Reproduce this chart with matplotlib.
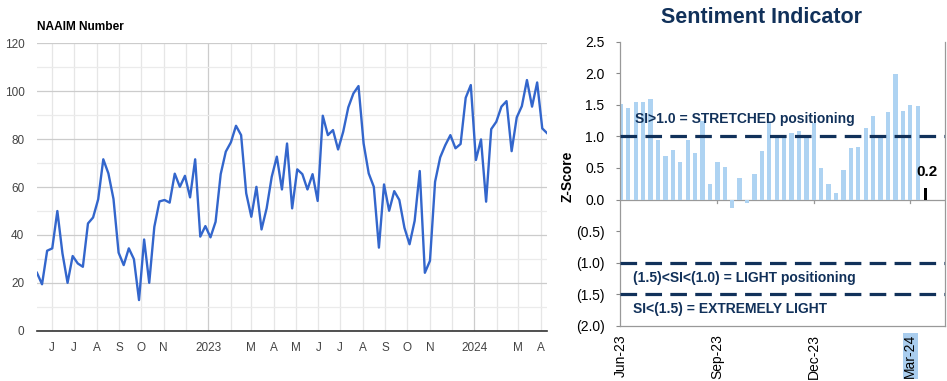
import numpy as np
import pandas as pd
import matplotlib
matplotlib.use("Agg")
import matplotlib.pyplot as plt

plt.rcParams['font.family'] = ['Liberation Sans', 'DejaVu Sans']

# NAAIM exposure index, weekly from 2022-05-11 to 2024-04-10
naaim_start = "2022-05-11"
naaim = [24.2, 19.4, 33.4, 34.4, 50.0, 32.3, 20.0, 31.2, 28.1, 26.7,
         44.8, 47.3, 54.9, 71.6, 65.7, 55.0, 32.6, 27.4, 34.4, 29.9,
         12.8, 38.1, 20.0, 43.4, 54.0, 54.6, 53.5, 65.6, 60.1, 64.7,
         55.7, 71.6, 39.3, 43.7, 39.0, 45.5, 65.4, 74.8, 78.7, 85.6,
         81.7, 57.4, 47.6, 60.1, 42.3, 51.1, 64.3, 72.7, 59.0, 78.2,
         51.1, 67.4, 65.4, 59.0, 65.4, 54.2, 89.8, 81.7, 83.8, 75.7,
         83.1, 93.3, 99.1, 102.2, 78.2, 65.7, 60.1, 34.7, 61.1, 50.1,
         58.3, 54.6, 43.0, 36.1, 45.9, 66.7, 24.2, 29.2, 62.2, 72.4,
         77.5, 81.7, 76.2, 78.0, 97.3, 102.6, 71.3, 79.9, 53.9, 84.2,
         87.3, 93.6, 95.9, 75.0, 89.1, 93.8, 104.7, 93.6, 103.7, 84.5,
         82.4]
naaim_dates = pd.date_range(naaim_start, periods=len(naaim), freq="7D")

# Sentiment indicator z-scores, weekly Jun-23 .. Mar-24
si = [1.51, 1.45, 1.55, 1.54, 1.60, 0.95, 0.69, 0.79, 0.60, 0.95,
      0.73, 1.24, 0.24, 0.60, 0.52, -0.13, 0.34, -0.05, 0.41, 0.77,
      1.21, 1.03, 1.03, 1.06, 1.08, 1.02, 1.21, 0.50, 0.25, 0.11,
      0.47, 0.81, 0.83, 1.13, 1.33, 1.00, 1.39, 1.99, 1.41, 1.49,
      1.48, 0.18]
si_tick_pos = [0, 13, 26, 39]
si_tick_labels = ["Jun-23", "Sep-23", "Dec-23", "Mar-24"]
si_levels = [1.0, -1.0, -1.5]
si_yticks = [2.5, 2.0, 1.5, 1.0, 0.5, 0.0, -0.5, -1.0, -1.5, -2.0]

fig = plt.figure(figsize=(9.47, 3.81), dpi=100)

# ---------------- left: NAAIM line ----------------
ax1 = fig.add_axes([0.039, 0.132, 0.539, 0.754])
ax1.plot(naaim_dates, naaim, color="#3366CC", lw=1.7, zorder=3)
ax1.set_xlim(naaim_dates[0], naaim_dates[-1])
ax1.set_ylim(0, 120)
ax1.set_yticks(range(0, 121, 20))
ax1.set_yticks(range(10, 120, 20), minor=True)
ax1.grid(axis="y", which="major", color="#cccccc", lw=0.9)
ax1.grid(axis="y", which="minor", color="#ebebeb", lw=0.9)

months = pd.date_range("2022-06-01", naaim_dates[-1], freq="MS")
for m in months:
    c = "#cccccc" if m.month == 1 else "#e6e6e6"
    ax1.axvline(m, color=c, lw=0.9, zorder=1)

def month_label(m):
    if m.month == 1:
        return str(m.year)
    if m.month in (2, 12):
        return ""
    return m.strftime("%b")[0]

ax1.set_xticks(months)
ax1.set_xticklabels([month_label(m) for m in months])
ax1.tick_params(axis="both", which="both", length=0, labelsize=8.5,
                labelcolor="#444444")
ax1.tick_params(axis="y", pad=9)
ax1.tick_params(axis="x", pad=8)
for s in ["top", "right", "left"]:
    ax1.spines[s].set_visible(False)
ax1.spines["bottom"].set_color("#333333")
ax1.spines["bottom"].set_linewidth(1.2)
fig.text(37 / 947, 1 - 27 / 381, "NAAIM Number", fontsize=8.6,
         fontweight="bold", va="center", ha="left")

# ---------------- right: sentiment bars ----------------
navy = "#11315A"
ax2 = fig.add_axes([0.6545, 0.145, 0.3435, 0.7455])
x = np.arange(len(si))
colors = ["#AED3F2"] * (len(si) - 1) + ["black"]
widths = [0.58] * (len(si) - 1) + [0.4]
ax2.bar(x, si, width=widths, color=colors, zorder=2)
ax2.set_xlim(-0.15, 43.7)
ax2.set_ylim(-2.0, 2.5)
ax2.axhline(0, color="#999999", lw=0.9, zorder=1)
for p in si_tick_pos[1:]:
    ax2.plot([p, p], [0, -0.05], color="#999999", lw=0.9, zorder=1)
for lv in si_levels:
    ax2.axhline(lv, color=navy, lw=2.3, dashes=(5.2, 2.6), zorder=3)

ax2.set_yticks(si_yticks)
ax2.set_yticklabels([f"{v:.1f}" if v >= 0 else f"({abs(v):.1f})" for v in si_yticks])
ax2.set_xticks(si_tick_pos)
ax2.set_xticklabels(si_tick_labels, rotation=90)
ax2.tick_params(axis="y", length=3, pad=8, labelsize=10, color="#888888")
ax2.tick_params(axis="x", length=0, pad=6, labelsize=10)
ax2.get_xticklabels()[-1].set_bbox(dict(facecolor="#A9CDEE", edgecolor="none", pad=0.5))
ax2.spines["top"].set_visible(False)
for s in ["left", "right", "bottom"]:
    ax2.spines[s].set_color("#999999")
    ax2.spines[s].set_linewidth(0.9)

ax2.text(1.9, 1.27, "SI>1.0 = STRETCHED positioning", color=navy,
         fontsize=10, fontweight="bold", va="center", zorder=4)
ax2.text(1.6, -1.245, "(1.5)<SI<(1.0) = LIGHT positioning", color=navy,
         fontsize=10, fontweight="bold", va="center", zorder=4)
ax2.text(1.6, -1.73, "SI<(1.5) = EXTREMELY LIGHT", color=navy,
         fontsize=10, fontweight="bold", va="center", zorder=4)
ax2.text(len(si) - 1 + 0.25, si[-1] + 0.25, f"{si[-1]:.1f}", fontsize=11,
         fontweight="bold", ha="center", va="center")

fig.text(568 / 947, 1 - 176 / 381, "Z-Score", rotation=90, fontsize=10,
         fontweight="bold", ha="center", va="center")
fig.text(0.804, 0.954, "Sentiment Indicator", fontsize=15.5,
         fontweight="bold", color=navy, ha="center", va="center")

fig.savefig("out.png", dpi=100)
